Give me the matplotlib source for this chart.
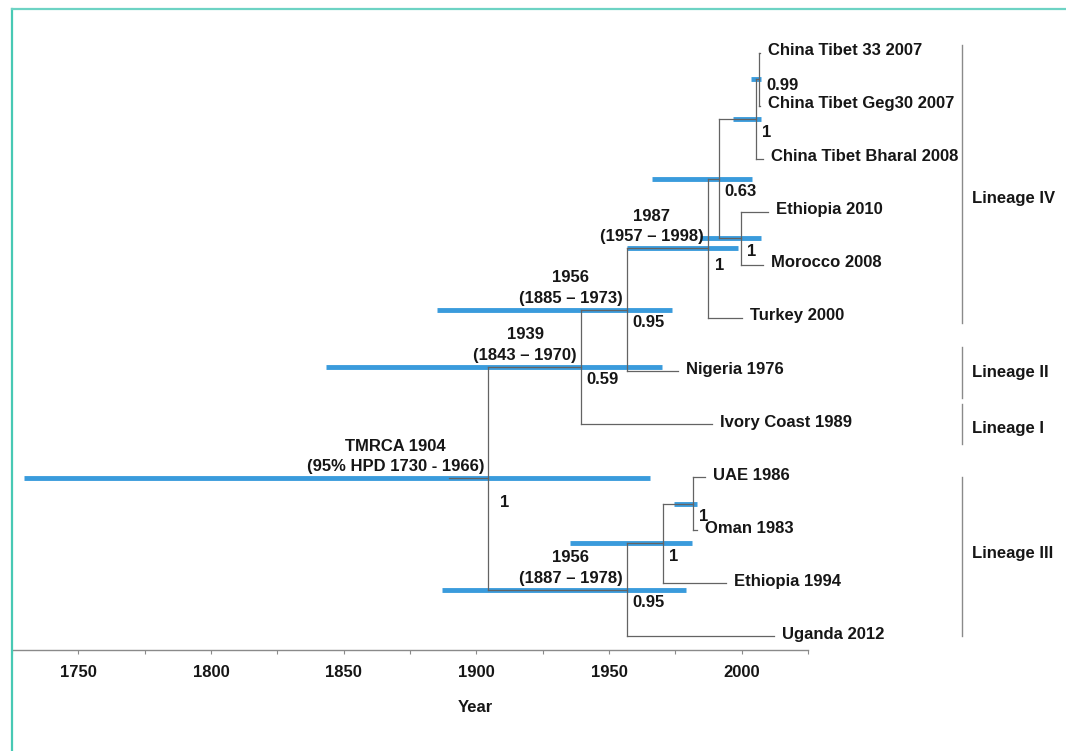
import matplotlib
matplotlib.use("Agg")
import matplotlib.pyplot as plt
import matplotlib.ticker
from matplotlib.lines import Line2D

plt.rcParams['font.family'] = ['Liberation Sans', 'DejaVu Sans']
plt.rcParams['font.weight'] = 'bold'

# tips, top to bottom
tip_names = ['China Tibet 33 2007', 'China Tibet Geg30 2007', 'China Tibet Bharal 2008',
             'Ethiopia 2010', 'Morocco 2008', 'Turkey 2000', 'Nigeria 1976',
             'Ivory Coast 1989', 'UAE 1986', 'Oman 1983', 'Ethiopia 1994', 'Uganda 2012']
tip_years = [2007, 2007, 2008, 2010, 2008, 2000, 1976, 1989, 1986, 1983, 1994, 2012]

# internal nodes (children are tip indices or node ids), listed children-first
node_ids = ['A', 'B', 'C', 'E', 'D', 'F', 'G', 'J', 'I', 'H', 'R']
node_kids = [(0, 1), ('A', 2), (3, 4), ('B', 'C'), ('E', 5), ('D', 6), ('F', 7),
             (8, 9), ('J', 10), ('I', 11), ('G', 'H')]
node_ages = [2006.5, 2005.3, 1999.6, 1991.3, 1987.2, 1956.7, 1939.4, 1981.5, 1970.2, 1956.7, 1904.4]
hpd_low = [2003.4, 1996.6, 1984.2, 1966.1, 1956.7, 1885.2, 1843.4, 1974.4, 1935.2, 1887.0, 1729.7]
hpd_high = [2007.2, 2007.2, 2007.2, 2003.8, 1998.5, 1973.6, 1969.9, 1983.1, 1981.2, 1978.9, 1965.4]
support = ['0.99', '1', '1', '0.63', '1', '0.95', '0.59', '1', '1', '0.95', '1']
date_labels = {
    'D': '1987\n(1957 \u2013 1998)',
    'F': '1956\n(1885 \u2013 1973)',
    'G': '1939\n(1843 \u2013 1970)',
    'H': '1956\n(1887 \u2013 1978)',
    'R': 'TMRCA 1904\n(95% HPD 1730 - 1966)',
}
root_stub_start = 1889.7

lineage_names = ['Lineage IV', 'Lineage II', 'Lineage I', 'Lineage III']
lineage_top = [-0.15, 5.55, 6.62, 8.0]
lineage_bottom = [5.1, 6.5, 7.38, 11.0]
lineage_label_row = [2.75, 6.03, 7.08, 9.45]

# label nudges (pixels) for a couple of crowded support values
support_nudge = {'A': (7, -6), 'R': (12, -24), 'D': (7, -17)}

W, H = 1066, 751
fig = plt.figure(figsize=(W / 100, H / 100), dpi=100)
ax = fig.add_axes([12 / W, 1 - 650 / H, 796 / W, 641 / H])
ax.set_xlim(1725, 2025)
ax.set_ylim(11.264, -0.830)

line_col = '#636363'
bar_col = '#3a9bdc'
txt_col = '#161616'

# layout: x = age / tip year, y = row (node y = midpoint of children)
pos = {}
for i, yr in enumerate(tip_years):
    pos[i] = (yr, float(i))
for nid, kids, age in zip(node_ids, node_kids, node_ages):
    ys = [pos[k][1] for k in kids]
    pos[nid] = (age, sum(ys) / len(ys))

# HPD bars
for nid, lo, hi in zip(node_ids, hpd_low, hpd_high):
    ax.plot([lo, hi], [pos[nid][1]] * 2, color=bar_col, lw=3.5, solid_capstyle='butt', zorder=1)

# branches
for nid, kids in zip(node_ids, node_kids):
    x, y = pos[nid]
    ys = [pos[k][1] for k in kids]
    ax.plot([x, x], [min(ys), max(ys)], color=line_col, lw=0.9, zorder=2)
    for k in kids:
        ax.plot([x, pos[k][0]], [pos[k][1]] * 2, color=line_col, lw=0.9, zorder=2)
rx, ry = pos['R']
ax.plot([root_stub_start, rx], [ry, ry], color=line_col, lw=0.9, zorder=2)

# tip labels
for i, name in enumerate(tip_names):
    ax.annotate(name, pos[i], xytext=(8, 2), textcoords='offset pixels',
                ha='left', va='center', fontsize=12, fontweight='bold', color=txt_col)

# posterior support
for nid, s in zip(node_ids, support):
    ax.annotate(s, pos[nid], xytext=support_nudge.get(nid, (6, -13)), textcoords='offset pixels',
                ha='left', va='center', fontsize=12, fontweight='bold', color=txt_col)

# node date labels
for nid, txt in date_labels.items():
    ax.annotate(txt, pos[nid], xytext=(-4, 4), textcoords='offset pixels',
                ha='right', va='bottom', multialignment='center', linespacing=1.45,
                fontsize=12, fontweight='bold', color=txt_col)

# lineage brackets
for name, t, b, ly in zip(lineage_names, lineage_top, lineage_bottom, lineage_label_row):
    ax.plot([2083.2, 2083.2], [t, b], color='#8a8a8a', lw=1.0, clip_on=False)
    ax.text(2086.8, ly, name, ha='left', va='center', fontsize=12, fontweight='bold',
            color=txt_col, clip_on=False)

# axis styling
for side in ['left', 'top', 'right']:
    ax.spines[side].set_visible(False)
ax.spines['bottom'].set_color('#8a8a8a')
ax.spines['bottom'].set_linewidth(1.0)
ax.set_yticks([])
ax.xaxis.set_major_locator(matplotlib.ticker.MultipleLocator(50))
ax.xaxis.set_minor_locator(matplotlib.ticker.MultipleLocator(25))
ax.tick_params(axis='x', which='both', direction='out', length=3, width=0.8,
               color='#8a8a8a', labelsize=12, pad=8, labelcolor=txt_col)
for lab in ax.get_xticklabels():
    lab.set_fontweight('bold')
ax.set_xlabel('Year', fontsize=12, fontweight='bold', color=txt_col)
ax.xaxis.set_label_coords((475 - 12) / 796, -0.078)

# teal frame of the original panel
fig.add_artist(Line2D([12 / W, 12 / W], [0, 1 - 9 / H], color='#48c9b4', lw=1.6))
fig.add_artist(Line2D([12 / W, 1], [1 - 9 / H, 1 - 9 / H], color='#6dd3c4', lw=1.6))

fig.savefig('out.png', dpi=100)
